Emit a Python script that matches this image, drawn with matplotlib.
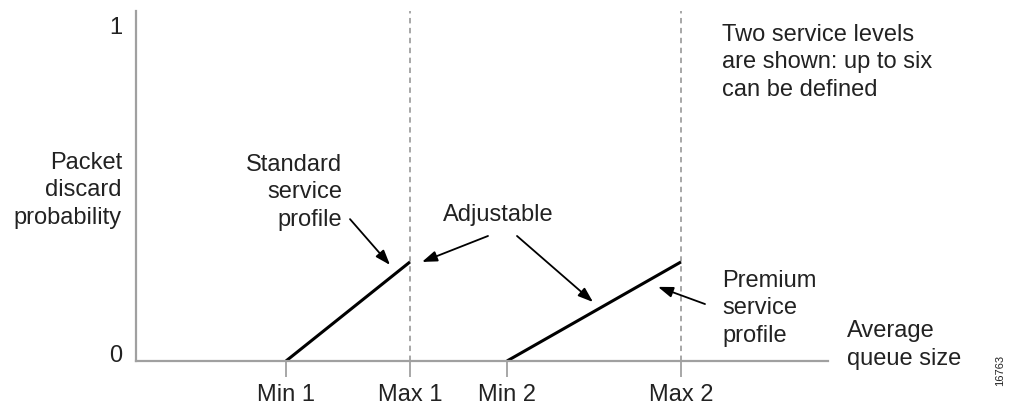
import matplotlib.pyplot as plt

plt.rcParams['font.family'] = ['Liberation Sans', 'DejaVu Sans']

# queue size positions of the thresholds (arbitrary units)
tick_pos = [15.0, 27.4, 37.1, 54.5]
tick_labels = ['Min 1', 'Max 1', 'Min 2', 'Max 2']

standard_x = [15.0, 27.4]
standard_y = [0.0, 0.294]
premium_x = [37.1, 54.5]
premium_y = [0.0, 0.294]

grey = '#a0a0a0'
fs = 17

if __name__ == '__main__':
    fig = plt.figure(figsize=(10.09, 4.06), dpi=100)
    ax = fig.add_axes([136 / 1009, 44 / 406, 692 / 1009, 350 / 406])
    ax.set_xlim(0, 69.2)
    ax.set_ylim(0, 350 / 337)

    for s in ['top', 'right']:
        ax.spines[s].set_visible(False)
    for s in ['left', 'bottom']:
        ax.spines[s].set_color(grey)
        ax.spines[s].set_linewidth(1.6)

    # dashed max lines
    for x in [tick_pos[1], tick_pos[3]]:
        ax.axvline(x, color=grey, lw=1.3, ls=(0, (3, 2.5)), ymin=0, ymax=1)

    ax.plot(standard_x, standard_y, color='black', lw=2.2, solid_capstyle='butt')
    ax.plot(premium_x, premium_y, color='black', lw=2.2, solid_capstyle='butt')

    ax.set_xticks(tick_pos)
    ax.set_xticklabels(tick_labels, fontsize=fs, color='#222222')
    ax.tick_params(axis='x', length=11.5, width=1.3, color=grey, pad=4)
    ax.set_yticks([0, 1])
    ax.set_yticklabels(['0', '1'], fontsize=fs, color='#222222')
    ax.tick_params(axis='y', length=0, pad=10)
    ax.get_yticklabels()[0].set_verticalalignment('baseline')

    txt = dict(fontsize=fs, color='#222222', clip_on=False, linespacing=1.32)
    ax.text(-1.4, 0.51, 'Packet\ndiscard\nprobability', ha='right', va='center',
            multialignment='right', **txt)
    ax.text(20.6, 0.504, 'Standard\nservice\nprofile', ha='right', va='center',
            multialignment='right', **txt)
    ax.text(36.2, 0.436, 'Adjustable', ha='center', va='center', **txt)
    ax.text(58.6, 0.89, 'Two service levels\nare shown: up to six\ncan be defined',
            ha='left', va='center', **txt)
    ax.text(58.6, 0.16, 'Premium\nservice\nprofile', ha='left', va='center', **txt)
    ax.text(71.1, 0.05, 'Average\nqueue size', ha='left', va='center', **txt)

    arrow = dict(arrowstyle='-|>,head_length=0.9,head_width=0.32', color='black',
                 lw=1.3, shrinkA=0, shrinkB=0)
    ax.annotate('', xy=(25.4, 0.285), xytext=(21.4, 0.421), arrowprops=arrow,
                annotation_clip=False)
    ax.annotate('', xy=(28.6, 0.294), xytext=(35.2, 0.371), arrowprops=arrow,
                annotation_clip=False)
    ax.annotate('', xy=(45.7, 0.175), xytext=(38.1, 0.371), arrowprops=arrow,
                annotation_clip=False)
    ax.annotate('', xy=(52.2, 0.220), xytext=(56.9, 0.169), arrowprops=arrow,
                annotation_clip=False)

    fig.text(1000 / 1009, 1 - 370 / 406, '16763', rotation=90, fontsize=8,
             ha='center', va='center', color='#222222')

    plt.savefig('out.png', dpi=100)
